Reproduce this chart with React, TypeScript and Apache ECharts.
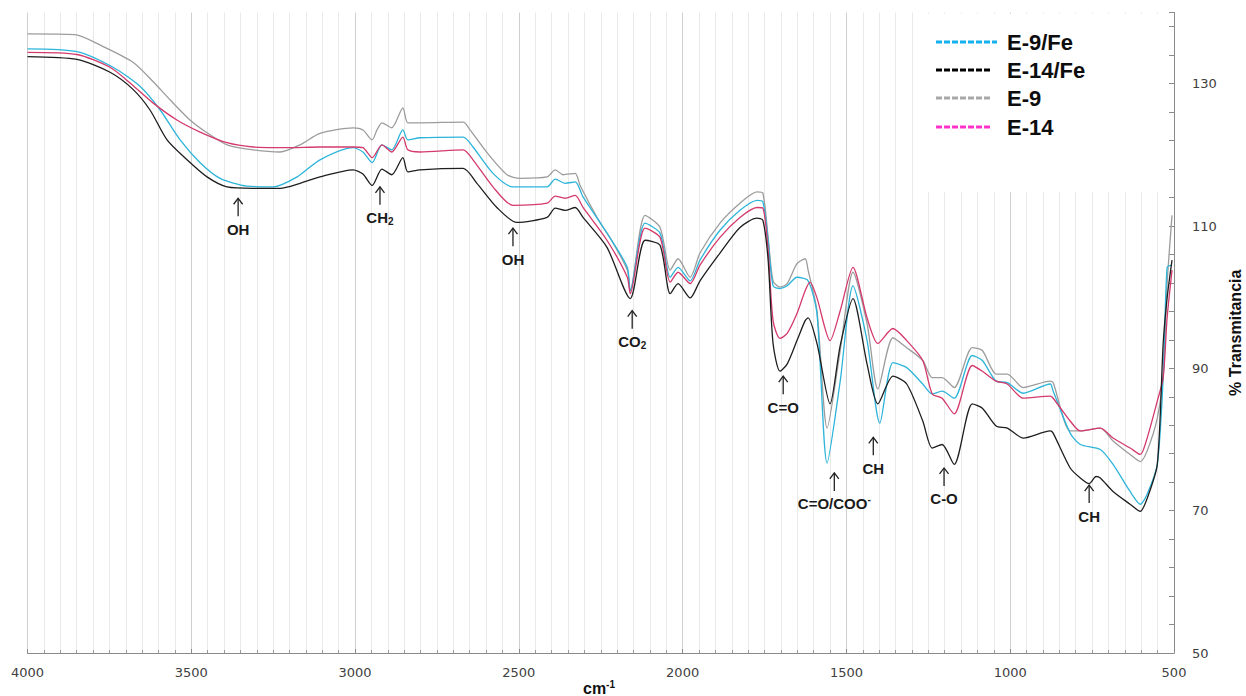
import { useEffect, useRef } from "react";
import * as echarts from "echarts";

// FTIR spectra: [wavenumber (cm-1), % transmittance]
const e9Fe: [number, number][] = [
  [4000, 134.9], [3849, 134.5], [3739, 132.3], [3656, 129.6], [3595, 126.3], [3534, 122.1],
  [3473, 118.9], [3412, 116.7], [3330, 115.6], [3250, 115.5], [3177, 116.9], [3107, 119.3],
  [3006, 121.0], [2976, 120.4], [2948, 118.9], [2918, 121.4], [2888, 120.7], [2854, 123.5],
  [2839, 122.1], [2802, 122.4], [2670, 122.5], [2640, 121.1], [2579, 117.4], [2518, 115.5],
  [2414, 115.5], [2389, 116.6], [2359, 116.0], [2328, 116.2], [2304, 114.1], [2231, 109.0],
  [2169, 104.2], [2160, 100.9], [2115, 110.4], [2069, 109.0], [2038, 102.8], [2014, 104.2],
  [1977, 102.3], [1947, 105.2], [1886, 109.4], [1825, 112.2], [1773, 113.6], [1755, 113.4],
  [1739, 108.0], [1724, 101.6], [1703, 101.2], [1681, 101.6], [1651, 102.8], [1617, 102.3],
  [1590, 97.7], [1559, 76.7], [1519, 88.2], [1480, 101.6], [1437, 93.9], [1398, 82.3],
  [1358, 90.8], [1316, 90.1], [1267, 87.8], [1238, 86.4], [1208, 86.8], [1171, 85.8],
  [1116, 91.8], [1085, 91.1], [1043, 88.2], [1009, 88.0], [960, 86.5], [878, 87.8],
  [869, 86.8], [817, 80.9], [786, 79.3], [725, 78.6], [686, 76.5], [634, 72.7],
  [603, 70.9], [582, 72.3], [551, 76.5], [533, 88.7], [521, 104.2], [506, 104.5]
];

const e14Fe: [number, number][] = [
  [4000, 133.8], [3849, 133.4], [3748, 131.6], [3678, 129.2], [3626, 126.3], [3574, 122.1],
  [3513, 119.3], [3452, 116.9], [3391, 115.5], [3311, 115.3], [3229, 115.3], [3168, 116.0],
  [3107, 116.9], [3006, 117.9], [2976, 117.3], [2948, 115.7], [2918, 118.0], [2888, 117.2],
  [2854, 119.6], [2839, 117.6], [2802, 117.9], [2670, 118.1], [2628, 116.0], [2567, 112.6],
  [2506, 110.5], [2414, 111.2], [2389, 112.5], [2359, 112.2], [2328, 112.6], [2304, 111.2],
  [2231, 107.0], [2160, 99.8], [2115, 108.0], [2069, 107.3], [2038, 100.5], [2014, 101.9],
  [1977, 99.9], [1947, 102.3], [1886, 106.2], [1825, 109.8], [1773, 111.1], [1755, 110.8],
  [1739, 105.2], [1724, 93.5], [1703, 89.6], [1681, 90.6], [1651, 93.9], [1626, 96.7],
  [1617, 97.1], [1590, 93.5], [1550, 85.0], [1519, 93.2], [1480, 99.8], [1437, 90.6],
  [1404, 85.0], [1358, 88.9], [1316, 87.8], [1267, 82.6], [1238, 78.8], [1208, 79.3],
  [1171, 76.5], [1116, 85.0], [1085, 84.4], [1043, 81.9], [1009, 81.6], [960, 80.2],
  [878, 81.2], [869, 80.9], [817, 76.0], [786, 74.6], [759, 73.8], [738, 74.8], [725, 74.6], [686, 72.7],
  [634, 70.9], [603, 69.9], [582, 71.7], [551, 76.5], [533, 93.5], [521, 99.9], [506, 105.2]
];

const e9: [number, number][] = [
  [4000, 137.0], [3855, 136.9], [3769, 135.2], [3678, 133.0], [3617, 130.3], [3564, 127.7],
  [3504, 124.9], [3452, 123.1], [3391, 121.4], [3311, 120.7], [3229, 120.4], [3168, 121.4],
  [3107, 123.0], [3006, 123.8], [2976, 123.5], [2948, 122.1], [2933, 123.5], [2918, 124.5],
  [2888, 123.8], [2854, 126.6], [2839, 124.5], [2802, 124.5], [2670, 124.6], [2649, 123.5],
  [2597, 120.3], [2536, 117.2], [2496, 116.7], [2414, 116.9], [2389, 117.9], [2365, 117.2],
  [2328, 117.4], [2313, 115.7], [2261, 111.2], [2212, 107.6], [2169, 103.8], [2160, 100.9],
  [2115, 111.5], [2069, 109.8], [2038, 103.8], [2014, 105.4], [1977, 102.8], [1947, 106.2],
  [1886, 110.4], [1825, 113.2], [1773, 114.8], [1755, 114.6], [1739, 108.4], [1724, 102.3],
  [1703, 101.4], [1681, 101.9], [1651, 104.7], [1626, 105.4], [1617, 103.8], [1590, 98.1],
  [1559, 81.6], [1519, 92.5], [1480, 103.5], [1437, 96.3], [1404, 87.1], [1358, 94.3],
  [1316, 92.9], [1267, 91.1], [1238, 88.7], [1208, 88.7], [1171, 87.3], [1116, 92.9],
  [1085, 92.5], [1043, 89.2], [1009, 89.2], [960, 87.3], [878, 88.2], [869, 88.0],
  [817, 81.2], [786, 81.2], [725, 81.6], [686, 79.8], [634, 77.9], [603, 76.9],
  [582, 78.4], [551, 83.0], [533, 89.2], [521, 101.9], [506, 111.5]
];

const e14: [number, number][] = [
  [4000, 134.4], [3849, 134.1], [3748, 132.3], [3687, 130.1], [3617, 127.3], [3544, 124.9],
  [3473, 123.2], [3391, 121.7], [3311, 121.1], [3208, 121.0], [3107, 121.1], [3006, 121.1],
  [2976, 121.0], [2948, 119.6], [2918, 121.4], [2888, 120.4], [2854, 122.5], [2839, 120.7],
  [2802, 120.4], [2670, 120.7], [2640, 119.3], [2579, 115.5], [2518, 112.9], [2414, 113.2],
  [2389, 114.2], [2359, 113.9], [2328, 114.3], [2304, 112.6], [2231, 108.0], [2169, 102.8],
  [2160, 100.5], [2115, 109.7], [2069, 108.4], [2038, 102.1], [2014, 103.5], [1977, 101.9],
  [1947, 104.5], [1886, 108.4], [1825, 111.2], [1773, 112.6], [1755, 112.5], [1739, 106.6],
  [1724, 96.7], [1703, 94.2], [1681, 94.9], [1651, 97.7], [1626, 100.9], [1611, 102.1],
  [1590, 99.9], [1550, 93.9], [1519, 98.1], [1480, 104.2], [1437, 97.1], [1404, 93.5],
  [1358, 95.6], [1316, 93.9], [1267, 91.1], [1238, 86.4], [1208, 85.8], [1171, 83.6],
  [1116, 90.4], [1085, 89.6], [1043, 88.2], [1009, 87.8], [960, 85.8], [878, 86.1],
  [869, 85.8], [817, 82.6], [786, 81.2], [725, 81.6], [686, 80.2], [634, 78.8],
  [603, 77.9], [582, 80.2], [551, 85.4], [533, 88.7], [521, 97.1], [506, 103.8]
];

const seriesNames = ["E-9/Fe", "E-14/Fe", "E-9", "E-14"];
const lineColors = ["#2db4da", "#1e1e1e", "#9c9c9c", "#d43a6b"];
const legendColors = ["#12b0ee", "#000000", "#a8a8a8", "#ff33cc"];

// Band assignments: wavenumber, transmittance at arrow tip, rich-text label
const bands = [
  { wn: 3357, t: 113.9, text: "{m|OH}" },
  { wn: 2924, t: 115.5, text: "{m|CH}{sub|2}" },
  { wn: 2518, t: 109.7, text: "{m|OH}" },
  { wn: 2154, t: 98.1, text: "{m|CO}{sub|2}" },
  { wn: 1693, t: 88.9, text: "{m|C=O}" },
  { wn: 1537, t: 75.3, text: "{m|C=O/COO}{sup|-}" },
  { wn: 1418, t: 80.3, text: "{m|CH}" },
  { wn: 1202, t: 76.0, text: "{m|C-O}" },
  { wn: 759, t: 73.6, text: "{m|CH}" }
];

const labelRich = {
  m: { fontSize: 15, fontWeight: "bold", fontFamily: "Liberation Sans, Arial", fill: "#1a1a1a", lineHeight: 18 },
  sub: { fontSize: 10, fontWeight: "bold", fontFamily: "Liberation Sans, Arial", fill: "#1a1a1a", lineHeight: 8, verticalAlign: "bottom" },
  sup: { fontSize: 10, fontWeight: "bold", fontFamily: "Liberation Sans, Arial", fill: "#1a1a1a", lineHeight: 8, verticalAlign: "top" }
};

export default function App() {
  const ref = useRef<HTMLDivElement>(null);

  useEffect(() => {
    if (!ref.current) return;
    const chart = echarts.init(ref.current, null, { renderer: "svg" });
    const datasets = [e9Fe, e14Fe, e9, e14];

    chart.setOption({
      animation: false,
      backgroundColor: "#ffffff",
      grid: { left: 27.5, right: 72, top: 12.5, bottom: 43, containLabel: false, outerBoundsMode: "none" },
      xAxis: {
        type: "value",
        min: 500,
        max: 4000,
        interval: 500,
        inverse: true,
        axisLine: { show: true, lineStyle: { color: "#8a8a8a", width: 1 } },
        axisTick: { show: true, inside: true, length: 4, lineStyle: { color: "#8a8a8a" } },
        minorTick: { show: true, splitNumber: 10, length: 3, lineStyle: { color: "#9a9a9a" } },
        axisLabel: {
          color: "#404040",
          fontSize: 13,
          fontFamily: "DejaVu Sans",
          margin: 13,
          formatter: (v: number) => String(v)
        },
        splitLine: { show: true, lineStyle: { color: "#cfcfcf", width: 1 } },
        minorSplitLine: { show: true, lineStyle: { color: "#e9e9e9", width: 1 } }
      },
      yAxis: [
        {
          type: "value",
          position: "right",
          min: 50,
          max: 140,
          interval: 20,
          name: "% Transmitancia",
          nameLocation: "middle",
          nameRotate: 90,
          nameGap: 52,
          nameTextStyle: { fontSize: 16, fontWeight: "bold", fontFamily: "Liberation Sans, Arial", color: "#111" },
          axisLine: { show: true, lineStyle: { color: "#8a8a8a", width: 1 } },
          axisTick: { show: false },
          axisLabel: {
            color: "#404040",
            fontSize: 13,
            fontFamily: "DejaVu Sans",
            margin: 18,
            showMaxLabel: false,
            formatter: (v: number) => String(v)
          },
          splitLine: { show: false }
        },
        {
          type: "value",
          position: "right",
          min: 50,
          max: 140,
          interval: 4,
          axisLine: { show: false },
          axisTick: { show: true, inside: true, length: 5, lineStyle: { color: "#8a8a8a" } },
          axisLabel: { show: false },
          splitLine: { show: false }
        }
      ],
      series: datasets.map((d, i) => ({
        name: seriesNames[i],
        type: "line",
        data: d,
        yAxisIndex: 0,
        showSymbol: false,
        symbol: "none",
        smooth: 0.25,
        lineStyle: { color: lineColors[i], width: 1.3 },
        itemStyle: { color: lineColors[i] },
        z: [3, 5, 2, 4][i]
      }))
    });

    const arrowLen = 18;
    const bandGraphics = bands.map((b) => {
      const [x, y] = chart.convertToPixel({ xAxisIndex: 0, yAxisIndex: 0 }, [b.wn, b.t]);
      return {
        type: "group",
        z: 50,
        children: [
          { type: "line", shape: { x1: x, y1: y, x2: x, y2: y + arrowLen }, style: { stroke: "#222", lineWidth: 1.3 } },
          { type: "polyline", shape: { points: [[x - 4.5, y + 6], [x, y], [x + 4.5, y + 6]] }, style: { stroke: "#222", lineWidth: 1.3, fill: "none" } },
          {
            type: "text",
            x,
            y: y + arrowLen + 13,
            style: { text: b.text, rich: labelRich, align: "center", verticalAlign: "middle" }
          }
        ]
      };
    });

    const legendRows = [42, 70, 98, 127];
    const legendGraphics = seriesNames.flatMap((name, i) => [
      {
        type: "line",
        z: 101,
        shape: { x1: 936, y1: legendRows[i], x2: i === 0 ? 997 : 991, y2: legendRows[i] },
        style: { stroke: legendColors[i], lineWidth: 3, lineDash: [6, 2] }
      },
      {
        type: "text",
        z: 101,
        x: 1007,
        y: legendRows[i],
        style: {
          text: name,
          fill: "#0d0d0d",
          font: "bold 22px 'Liberation Sans', Arial, sans-serif",
          align: "left",
          verticalAlign: "middle"
        }
      }
    ]);

    chart.setOption({
      graphic: [
        { type: "rect", z: 100, shape: { x: 915, y: 14, width: 253, height: 178 }, style: { fill: "#ffffff" } },
        ...legendGraphics,
        ...bandGraphics,
        {
          type: "text",
          z: 50,
          x: 599,
          y: 688,
          style: {
            text: "{m|cm}{sup|-1}",
            rich: {
              m: { fontSize: 16, fontWeight: "bold", fontFamily: "Liberation Sans, Arial", fill: "#111", lineHeight: 18 },
              sup: { fontSize: 10, fontWeight: "bold", fontFamily: "Liberation Sans, Arial", fill: "#111", lineHeight: 8, verticalAlign: "top" }
            },
            align: "center",
            verticalAlign: "middle"
          }
        }
      ]
    });

    return () => chart.dispose();
  }, []);

  return (
    <div
      ref={ref}
      style={{ position: "fixed", left: 0, top: 0, width: 1246, height: 696, background: "#fff" }}
    />
  );
}
